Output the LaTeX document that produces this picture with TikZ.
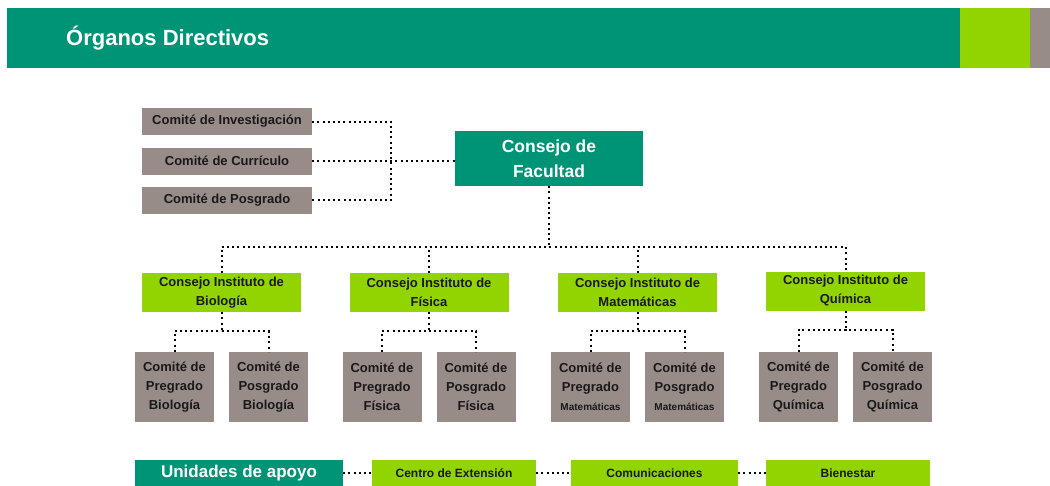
\documentclass[tikz,border=0pt]{standalone}
\usepackage{fontspec}
\setmainfont{Liberation Sans}
\definecolor{ver}{RGB}{0, 148, 118}
\definecolor{lim}{RGB}{146, 212, 0}
\definecolor{gri}{RGB}{152, 140, 137}
\definecolor{tin}{RGB}{25, 25, 25}
\tikzset{
  con/.style={line width=2pt, dash pattern=on 2pt off 3.2pt},
  comite/.style={fill=gri, text=tin, inner sep=0pt, minimum width=170pt, minimum height=27pt, font=\bfseries\fontsize{13}{15}\selectfont},
  consejo/.style={fill=ver, text=white, align=center, inner sep=0pt, minimum width=188pt, minimum height=55pt, font=\bfseries\fontsize{17.5}{25}\selectfont},
  inst/.style={fill=lim, text=tin, align=center, inner sep=0pt, minimum width=159pt, minimum height=39pt, font=\bfseries\fontsize{13}{19}\selectfont},
  sub/.style={fill=gri, text=tin, align=center, inner sep=0pt, minimum width=79pt, minimum height=70pt, font=\bfseries\fontsize{13}{19}\selectfont},
  apoyo/.style={fill=ver, text=white, inner sep=0pt, minimum width=208pt, minimum height=26pt, font=\bfseries\fontsize{17}{20}\selectfont},
  unidad/.style={fill=lim, text=tin, inner sep=0pt, minimum height=26pt, font=\bfseries\fontsize{12}{14}\selectfont}
}
\newcommand{\chico}[1]{{\fontsize{10}{12}\selectfont #1}}

\begin{document}
\begin{tikzpicture}[x=1pt, y=-1pt]
  \useasboundingbox (0,0) rectangle (1050,485);
  \fill[ver] (7,8) rectangle (960,68);
  \fill[lim] (960,8) rectangle (1030,68);
  \fill[gri] (1030,8) rectangle (1050,68);
  \node[anchor=west, inner sep=0pt, text=white, font=\bfseries\fontsize{22}{26}\selectfont] (tit) at (66,38) {Órganos Directivos};

  \node[comite] (inv) at (227,121.5) {Comité de Investigación};
  \node[comite] (cur) at (227,161) {Comité de Currículo};
  \node[comite] (posg) at (227,200) {Comité de Posgrado};
  \node[consejo] (cf) at (549,158.5) {Consejo de\\Facultad};

  \node[inst] (bio) at (221.5,292.5) {Consejo Instituto de\\Biología};
  \node[inst] (fis) at (429,292.5) {Consejo Instituto de\\Física};
  \node[inst] (mat) at (637.5,292.5) {Consejo Instituto de\\Matemáticas};
  \node[inst] (qui) at (845.5,291) {Consejo Instituto de\\Química};

  \node[sub] (pbio) at (174.5,387) {Comité de\\Pregrado\\Biología};
  \node[sub] (sbio) at (268.5,387) {Comité de\\Posgrado\\Biología};
  \node[sub] (pfis) at (382,387) {Comité de\\Pregrado\\Física};
  \node[sub] (sfis) at (476,387) {Comité de\\Posgrado\\Física};
  \node[sub] (pmat) at (590.5,387) {Comité de\\Pregrado\\\chico{Matemáticas}};
  \node[sub] (smat) at (684.5,387) {Comité de\\Posgrado\\\chico{Matemáticas}};
  \node[sub] (pqui) at (798.5,387) {Comité de\\Pregrado\\Química};
  \node[sub] (squi) at (892.5,387) {Comité de\\Posgrado\\Química};

  \node[apoyo] (uni) at (239,473) {Unidades de apoyo};
  \node[unidad, minimum width=164pt] (ext) at (454,473) {Centro de Extensión};
  \node[unidad, minimum width=167pt] (com) at (654.5,473) {Comunicaciones};
  \node[unidad, minimum width=164pt] (bie) at (848,473) {Bienestar};

  \coordinate (bus) at (391,161);
  \coordinate (bar) at (549,247);
  \draw[con] (inv.east) -- (inv.east -| bus) -- (posg.east -| bus) -- (posg.east);
  \draw[con] (cur.east) -- (cur.east -| cf.west);
  \draw[con] (cf.south) -- (bar);
  \draw[con] (bio.north) -- (bio.north |- bar) -- (qui.north |- bar) -- (qui.north);
  \draw[con] (fis.north) -- (fis.north |- bar);
  \draw[con] (mat.north) -- (mat.north |- bar);

  \draw[con] (bio.south) -- ++(0,19) coordinate (kbio);
  \draw[con] (pbio.north) |- (kbio) -| (sbio.north);
  \draw[con] (fis.south) -- ++(0,19) coordinate (kfis);
  \draw[con] (pfis.north) |- (kfis) -| (sfis.north);
  \draw[con] (mat.south) -- ++(0,19) coordinate (kmat);
  \draw[con] (pmat.north) |- (kmat) -| (smat.north);
  \draw[con] (qui.south) -- ++(0,19) coordinate (kqui);
  \draw[con] (pqui.north) |- (kqui) -| (squi.north);

  \draw[con] (uni) -- (ext);
  \draw[con] (ext) -- (com);
  \draw[con] (com) -- (bie);
\end{tikzpicture}
\end{document}
